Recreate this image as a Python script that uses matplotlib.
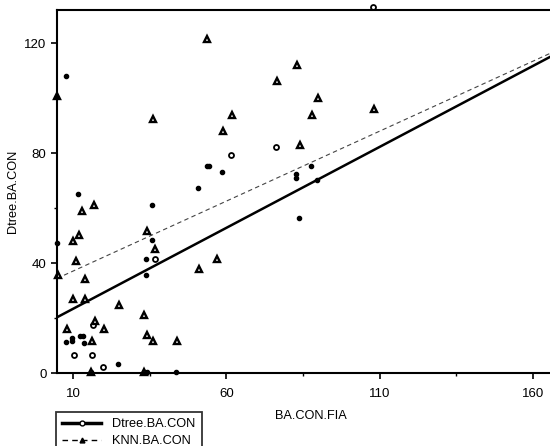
import numpy as np
import matplotlib
matplotlib.use("Agg")
import matplotlib.pyplot as plt
from matplotlib.lines import Line2D

plt.rcParams["font.family"] = ["Liberation Sans", "DejaVu Sans"]
plt.rcParams["font.size"] = 9.2

# Dtree.BA.CON - open circles
dtree_open_x = [61.4, 76.3, 107.7, 36.6, 16.5, 10.4, 16.3, 19.8]
dtree_open_y = [79.5, 82.4, 133.3, 41.6, 17.7, 6.6, 6.6, 2.3]

# Dtree.BA.CON - small filled dots
dtree_dot_x = [7.6, 53.6, 54.3, 58.5, 50.7, 11.5, 87.5, 82.7, 82.7, 89.5, 83.7, 35.8,
               4.8, 35.8, 33.7, 33.7, 7.7, 9.8, 9.8, 12.4, 13.2, 13.7, 24.6, 15.8,
               33.2, 34.0, 43.6]
dtree_dot_y = [108.2, 75.5, 75.5, 73.3, 67.5, 65.3, 75.5, 71.0, 72.3, 70.3, 56.5, 61.3,
               47.5, 48.5, 41.6, 35.6, 11.4, 11.8, 12.8, 13.7, 13.7, 10.9, 3.5, 0.3,
               0.3, 0.3, 0.3]

# KNN.BA.CON - triangles
knn_x = [53.8, 4.9, 36.1, 61.9, 58.9, 76.5, 82.9, 89.9, 87.9, 108.0, 83.9, 16.9,
         12.9, 10.0, 11.8, 34.0, 36.8, 11.1, 5.0, 13.8, 10.0, 13.8, 25.0, 51.1,
         56.9, 33.0, 8.0, 17.2, 20.1, 16.2, 34.1, 36.1, 43.9, 15.8, 33.0]
knn_y = [121.6, 100.8, 92.5, 93.9, 88.2, 106.4, 112.1, 100.0, 93.9, 96.1, 83.0, 61.2,
         59.1, 48.2, 50.4, 51.7, 45.2, 40.8, 35.9, 34.3, 27.0, 27.0, 25.0, 37.9,
         41.6, 21.2, 16.2, 19.0, 16.2, 11.9, 13.9, 11.9, 11.9, 0.3, 0.3]

# fitted lines (intercept, slope)
dtree_fit = [17.55, 0.589]
knn_fit = [32.07, 0.509]

fig = plt.figure(figsize=(5.5, 4.46), dpi=100)
ax = fig.add_axes([57 / 550, 72.7 / 446, 508 / 550, 363.3 / 446])

xlim = (4.78, 170.4)
line_x = np.array(xlim)

ax.plot(line_x, dtree_fit[0] + dtree_fit[1] * line_x, color="black", lw=1.8)
ax.plot(line_x, knn_fit[0] + knn_fit[1] * line_x, color="#444444", lw=0.8,
        linestyle=(0, (4, 3)))

ax.plot(dtree_dot_x, dtree_dot_y, linestyle="none", marker="o", ms=3.0,
        color="black", clip_on=False)
ax.plot(dtree_open_x, dtree_open_y, linestyle="none", marker="o", ms=3.6,
        mfc="white", mec="black", mew=1.3, clip_on=False)
ax.plot(knn_x, knn_y, linestyle="none", marker="^", ms=3.9,
        mfc="white", mec="black", mew=1.7, clip_on=False)

ax.set_xlim(*xlim)
ax.set_ylim(0, 132.1)
ax.set_xticks([10, 60, 110, 160])
ax.set_yticks([0, 40, 80, 120])
ax.set_xticks([35, 85, 135], minor=True)
ax.set_yticks([20, 60, 100], minor=True)
ax.tick_params(which="major", direction="out", length=4.5, width=1.2, labelsize=9.5)
ax.tick_params(which="minor", direction="out", length=2, width=1.0)
ax.tick_params(axis="x", which="major", pad=6)
ax.tick_params(axis="y", which="major", pad=3)

for side in ["top", "left", "bottom"]:
    ax.spines[side].set_linewidth(1.5)
ax.spines["right"].set_visible(False)

ax.set_xlabel("BA.CON.FIA", labelpad=7)
ax.set_ylabel("Dtree.BA.CON", labelpad=4)

handles = [
    Line2D([0], [0], color="black", lw=2.5, marker="o", ms=3.5, mfc="white",
           mec="black", mew=1.0),
    Line2D([0], [0], color="black", lw=1.0, linestyle=(0, (4, 3)), marker="^",
           ms=3.5, mfc="black", mec="black"),
]
leg = fig.legend(handles, ["Dtree.BA.CON", "KNN.BA.CON"], loc="upper left",
                 bbox_to_anchor=(56 / 550, 1 - 412 / 446), frameon=True,
                 fancybox=False, edgecolor="black", handlelength=3.05,
                 handletextpad=0.83, labelspacing=0.375, borderpad=0.5,
                 borderaxespad=0, numpoints=1, fontsize=9.2)
leg.get_frame().set_linewidth(1.3)

fig.savefig("out.png", dpi=100)
